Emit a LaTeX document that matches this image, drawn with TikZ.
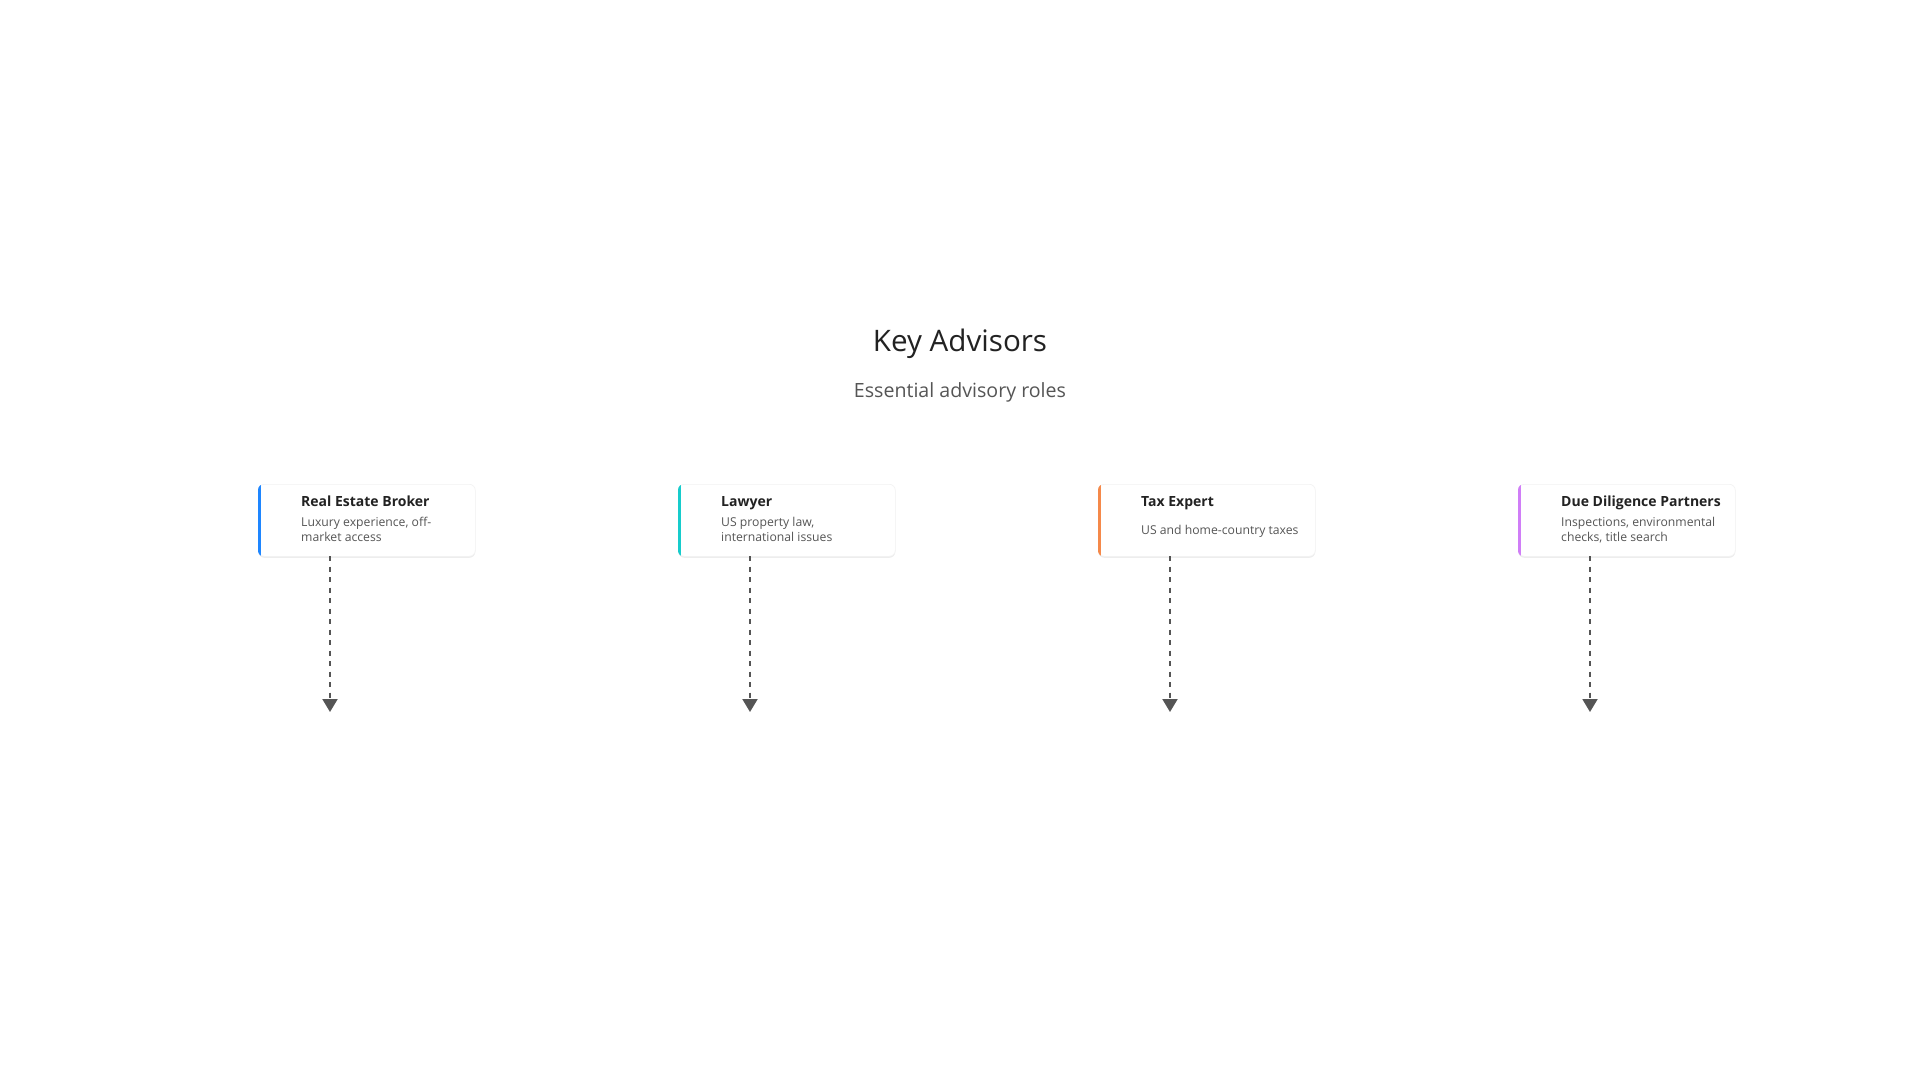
\documentclass[tikz,border=0pt]{standalone}
\usepackage{fontspec}
\setmainfont{Open Sans}
\usetikzlibrary{arrows.meta,shadows}
\definecolor{cblue}{HTML}{1E86FF}
\definecolor{cteal}{HTML}{16CCCC}
\definecolor{corange}{HTML}{F5894A}
\definecolor{cpurple}{HTML}{D07EF7}
\definecolor{tdark}{HTML}{222222}
\definecolor{tgray}{HTML}{555555}
\definecolor{arr}{HTML}{555555}
\tikzset{
  card/.style={draw=black!5, line width=0.6pt, fill=white, rounded corners=6pt,
    minimum width=217pt, minimum height=72pt, anchor=north west, inner sep=0pt,
    drop shadow={shadow xshift=0pt, shadow yshift=-1.5pt, opacity=0.07, fill=black}},
  cardtitle/.style={anchor=base west, inner sep=0pt, text=tdark, font=\fontsize{14}{17}\selectfont\bfseries},
  carddesc/.style={anchor=base west, inner sep=0pt, text=tgray, font=\fontsize{12.2}{15}\selectfont},
  conn/.style={draw=arr, line width=2pt, dash pattern=on 5pt off 5.5pt,
    -{Triangle[width=15pt,length=13pt,sep=0pt]}},
}
\begin{document}
\begin{tikzpicture}[x=1pt,y=-1pt]
\useasboundingbox (0,0) rectangle (1920,1080);
\fill[white] (0,0) rectangle (1920,1080);

\node[anchor=base, inner sep=0pt, text=tdark, font=\fontsize{29.6}{34}\selectfont] (title) at (960,351) {Key Advisors};
\node[anchor=base, inner sep=0pt, text=tgray, font=\fontsize{19.6}{23}\selectfont] (subtitle) at (960,397) {Essential advisory roles};

% cards
\foreach \i/\x/\c in {1/258/cblue, 2/678/cteal, 3/1098/corange, 4/1518/cpurple}{
  \node[card] (c\i) at (\x,484) {};
  \begin{scope}
    \clip[rounded corners=6pt] (c\i.north west) rectangle (c\i.south east);
    \fill[\c] (c\i.north west) rectangle ([xshift=3.4pt]c\i.south west);
  \end{scope}
  \coordinate (e\i) at (\x+72,712);
  \coordinate (s\i) at (\x+72,556);
  \draw[conn] (s\i) -- (e\i);
}

\node[cardtitle] (t1) at (301,506) {Real Estate Broker};
\node[carddesc] (d1a) at (301,526.5) {Luxury experience, off-};
\node[carddesc] (d1b) at (301,541.5) {market access};

\node[cardtitle] (t2) at (721,506) {Lawyer};
\node[carddesc] (d2a) at (721,526.5) {US property law,};
\node[carddesc] (d2b) at (721,541.5) {international issues};

\node[cardtitle] (t3) at (1141,506) {Tax Expert};
\node[carddesc] (d3a) at (1141,534) {US and home-country taxes};

\node[cardtitle] (t4) at (1561,506) {Due Diligence Partners};
\node[carddesc] (d4a) at (1561,526.5) {Inspections, environmental};
\node[carddesc] (d4b) at (1561,541.5) {checks, title search};
\end{tikzpicture}
\end{document}
